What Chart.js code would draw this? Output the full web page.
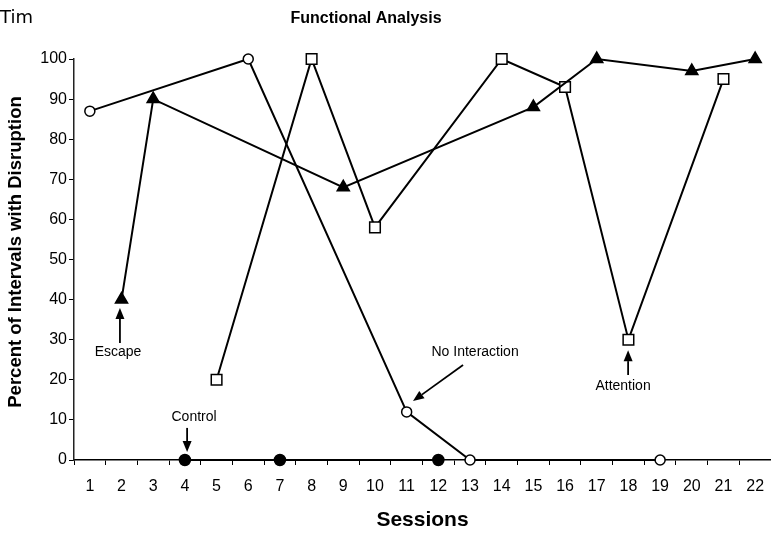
<!DOCTYPE html>
<html><head><meta charset="utf-8">
<script src="https://cdn.jsdelivr.net/npm/chart.js@4/dist/chart.umd.min.js"></script>
<style>html,body{margin:0;padding:0;background:#fff;}canvas{display:block;}</style>
</head><body>
<canvas id="c" width="771" height="533"></canvas>
<script>
// ---- data ----
const sessions = ['1','2','3','4','5','6','7','8','9','10','11','12','13','14','15','16','17','18','19','20','21','22'];
const noInteraction = [87,null,null,null,null,100,null,null,null,null,12,null,0,null,null,null,null,null,0,null,null,null];
const escapeCond   = [null,40,90,null,null,null,null,null,68,null,null,null,null,null,88,null,100,null,null,97,null,100];
const attention    = [null,null,null,null,20,null,null,100,null,58,null,null,null,100,null,93,null,30,null,null,95,null];
const control      = [null,null,null,0,null,null,0,null,null,null,null,0,null,null,null,null,null,null,null,null,null,null];
const yTicks = [0,10,20,30,40,50,60,70,80,90,100];

// annotation labels (in data units: category index 0-based, value)
const annotations = [
  {text:'Escape',         tx:0.89, ty:26.9, ax1:0.95, ay1:29.2, ax2:0.95, ay2:37.9},
  {text:'Control',        tx:3.29, ty:10.7, ax1:3.07, ay1:8.0,  ax2:3.07, ay2:2.0},
  {text:'No Interaction', tx:12.16,ty:26.9, ax1:11.78,ay1:23.7, ax2:10.2, ay2:14.7},
  {text:'Attention',      tx:16.83,ty:18.5, ax1:16.99,ay1:21.2, ax2:16.99,ay2:27.4}
];

function arrow(ctx, x1, y1, x2, y2) {
  const ang = Math.atan2(y2 - y1, x2 - x1);
  const hl = 11, hw = 4.5;
  const bx = x2 - Math.cos(ang) * hl, by = y2 - Math.sin(ang) * hl;
  ctx.beginPath();
  ctx.moveTo(x1, y1); ctx.lineTo(bx, by);
  ctx.lineWidth = 1.8; ctx.strokeStyle = '#000'; ctx.stroke();
  ctx.beginPath();
  ctx.moveTo(x2, y2);
  ctx.lineTo(bx + Math.sin(ang) * hw, by - Math.cos(ang) * hw);
  ctx.lineTo(bx - Math.sin(ang) * hw, by + Math.cos(ang) * hw);
  ctx.closePath(); ctx.fillStyle = '#000'; ctx.fill();
}

const textPlugin = {
  id: 'texts',
  afterDraw(chart) {
    const ctx = chart.ctx, xs = chart.scales.x, ys = chart.scales.y;
    ctx.save();
    ctx.fillStyle = '#000';
    ctx.textBaseline = 'middle';
    ctx.textAlign = 'left';
    ctx.font = '18px "DejaVu Sans"';
    ctx.fillText('Tim', 0, 18);
    ctx.textAlign = 'center';
    ctx.font = 'bold 16px "Liberation Sans", Arial';
    ctx.fillText('Functional Analysis', 366, 19);
    // y axis title
    ctx.save();
    ctx.translate(16, 252);
    ctx.rotate(-Math.PI / 2);
    ctx.font = 'bold 18.5px "Liberation Sans", Arial';
    ctx.fillText('Percent of Intervals with Disruption', 0, 0);
    ctx.restore();
    ctx.font = '14px "Liberation Sans", Arial';
    annotations.forEach(a => {
      const px = v => xs.getPixelForValue(v);
      ctx.fillStyle = '#000';
      ctx.textAlign = 'center';
      ctx.fillText(a.text, px(a.tx), ys.getPixelForValue(a.ty));
      arrow(ctx, px(a.ax1), ys.getPixelForValue(a.ay1), px(a.ax2), ys.getPixelForValue(a.ay2));
    });
    ctx.restore();
  }
};

const common = {borderColor:'#000', borderWidth:2, tension:0, spanGaps:true, clip:false, pointBorderColor:'#000', pointBorderWidth:1.5};

new Chart(document.getElementById('c'), {
  type: 'line',
  data: {
    labels: sessions,
    datasets: [
      Object.assign({label:'No Interaction', data:noInteraction, pointStyle:'circle', pointRadius:5, pointBackgroundColor:'#fff'}, common),
      Object.assign({label:'Escape', data:escapeCond, pointStyle:'triangle', pointRadius:7, pointBackgroundColor:'#000'}, common),
      Object.assign({label:'Attention', data:attention, pointStyle:'rect', pointRadius:7.5, pointBackgroundColor:'#fff'}, common),
      Object.assign({label:'Control', data:control, pointStyle:'circle', pointRadius:5.5, pointBackgroundColor:'#000'}, common)
    ]
  },
  options: {
    responsive: false,
    devicePixelRatio: 1,
    animation: false,
    layout: {autoPadding: false, padding: {top: 59, left: 0, right: 0, bottom: 0}},
    plugins: {legend: {display: false}, title: {display: false}, tooltip: {enabled: false}},
    scales: {
      x: {
        type: 'category',
        offset: true,
        afterFit: s => { s.height = 73; s.paddingLeft = 0; s.paddingRight = 0; },
        grid: {display: true, offset: true, drawOnChartArea: false, drawTicks: true, tickLength: 5, color: '#000', lineWidth: 1},
        border: {display: true, color: '#000', width: 1.5},
        ticks: {color: '#000', font: {family: '"Liberation Sans", Arial', size: 16}, padding: 12, maxRotation: 0, autoSkip: false},
        title: {display: true, text: 'Sessions', color: '#000', font: {family: '"Liberation Sans", Arial', size: 21, weight: 'bold'}, padding: {top: 0, bottom: 0}}
      },
      y: {
        min: 0, max: 100,
        afterFit: s => { s.width = 74; },
        afterBuildTicks: s => { s.ticks = yTicks.map(v => ({value: v})); },
        grid: {display: true, drawOnChartArea: false, drawTicks: true, tickLength: 5, color: '#000', lineWidth: 1},
        border: {display: true, color: '#222', width: 1.5},
        ticks: {color: '#000', font: {family: '"Liberation Sans", Arial', size: 16}, padding: 2},
        title: {display: false}
      }
    }
  },
  plugins: [textPlugin]
});
</script>
</body></html>
